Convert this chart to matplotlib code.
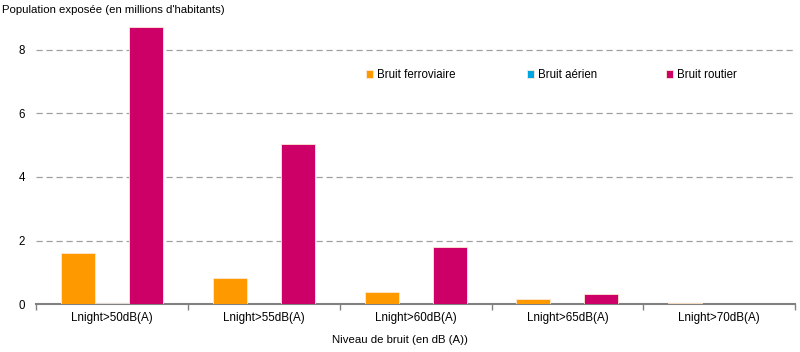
import matplotlib
matplotlib.use("Agg")
import matplotlib.pyplot as plt
import numpy as np

categories = ["Lnight>50dB(A)", "Lnight>55dB(A)", "Lnight>60dB(A)", "Lnight>65dB(A)", "Lnight>70dB(A)"]
ferroviaire = [1.6, 0.83, 0.38, 0.15, 0.03]
aerien = [0.03, 0.005, 0.0, 0.0, 0.0]
routier = [8.7, 5.03, 1.8, 0.32, 0.0]
series_names = ["Bruit ferroviaire", "Bruit aérien", "Bruit routier"]
colors = ["#FF9900", "#00A6E2", "#CC0066"]
yticks = [0, 2, 4, 6, 8]

plt.rcParams['font.family'] = ['Liberation Sans', 'DejaVu Sans']
fig = plt.figure(figsize=(8, 3.52), dpi=100)
ax = fig.add_axes([0.045, 0.136, 0.949, 0.813])

x = np.arange(len(categories))
w = 0.224
bars = []
for i, (vals, name, c) in enumerate(zip([ferroviaire, aerien, routier], series_names, colors)):
    b = ax.bar(x + (i - 1) * w, vals, width=w, color=c, edgecolor="#FFE8D8", linewidth=0.6, label=name, zorder=3)
    bars.append(b)

ax.set_xlim(-0.5, len(categories) - 0.5)
ax.set_ylim(0, 9)
ax.set_yticks(yticks)
ax.set_yticklabels([str(t) for t in yticks], fontsize=8.3)
ax.yaxis.grid(True, linestyle=(0, (5, 3)), color="#A0A0A0", linewidth=0.9, zorder=0)
ax.tick_params(axis='y', length=0, pad=8)

ax.set_xticks(x)
ax.set_xticklabels(categories, fontsize=8.4)
ax.tick_params(axis='x', length=0, pad=6)
ax.set_xticks(np.arange(len(categories) + 1) - 0.5, minor=True)
ax.tick_params(axis='x', which='minor', length=4, color="#808080", width=1)

for s in ['top', 'right', 'left']:
    ax.spines[s].set_visible(False)
ax.spines['bottom'].set_color("#808080")
ax.spines['bottom'].set_linewidth(1.5)

legend_x = [0.435, 0.647, 0.830]
legs = []
for b, name, lx in zip(bars, series_names, legend_x):
    leg = ax.legend([b], [name], loc='center left', bbox_to_anchor=(lx, 0.80), frameon=False,
                    fontsize=8.3, handlelength=0.6, handleheight=0.6, handletextpad=0.3, borderpad=0,
                    borderaxespad=0)
    legs.append(leg)
for leg in legs[:-1]:
    ax.add_artist(leg)

fig.text(0.003, 0.972, "Population exposée (en millions d'habitants)", fontsize=8.2, va='center', ha='left')
fig.text(0.5, 0.035, "Niveau de bruit (en dB (A))", fontsize=8.2, va='center', ha='center')

fig.savefig("out.png", dpi=100)
